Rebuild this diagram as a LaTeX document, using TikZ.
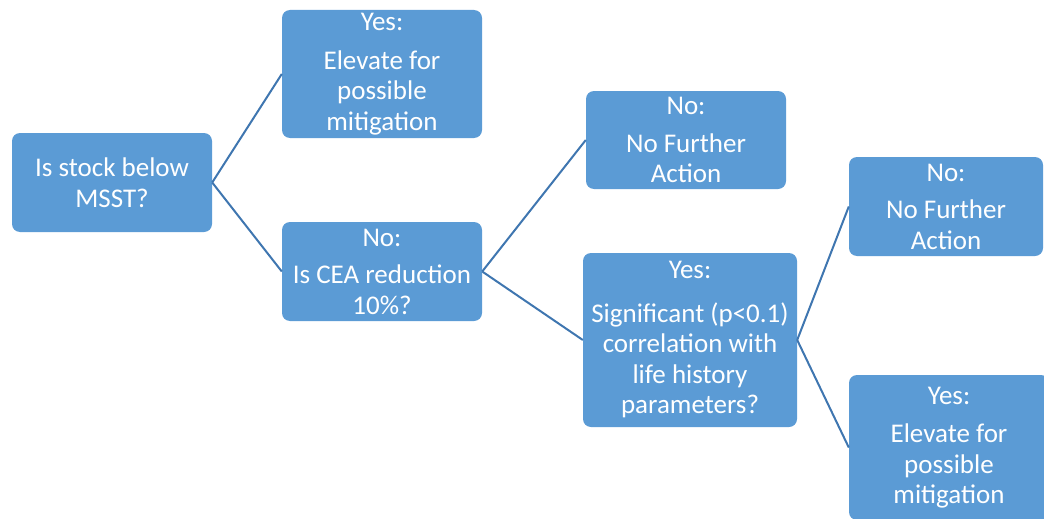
\documentclass[tikz,border=0pt]{standalone}
\usepackage{fontspec}
\setmainfont{Carlito}
\usepackage{xcolor}
\definecolor{boxblue}{HTML}{5B9BD5}
\definecolor{lineblue}{HTML}{3F76B0}

\begin{document}
\begin{tikzpicture}[x=1pt,y=-1pt,
		decision/.style={fill=boxblue, rounded corners=8pt, text=white, align=center, inner sep=0pt, font=\fontsize{27}{30.5}\selectfont},
		branch/.style={draw=lineblue, line width=2pt}]
		\useasboundingbox (0,0) rectangle (1044,519);
		\clip (0,0) rectangle (1044,519);
		\node[decision, minimum width=200pt, minimum height=99pt] (stock) at (112,182.5) {Is stock below\\MSST?};
		\node[decision, minimum width=200pt, minimum height=128pt] (elevA) at (382,74) {Yes:\\[8pt]Elevate for\\possible\\mitigation};
		\node[decision, minimum width=200pt, minimum height=99pt] (cea) at (382,271.5) {No:\\[7pt]Is CEA reduction\\10\%?};
		\node[decision, minimum width=200pt, minimum height=98pt] (actionA) at (686,140) {No:\\[7pt]No Further\\Action};
		\node[decision, minimum width=214pt, minimum height=174pt] (signif) at (690,340) {Yes:\\[13pt]Significant (p<0.1)\\correlation with\\life history\\parameters?};
		\node[decision, minimum width=194pt, minimum height=99pt] (actionB) at (946,206.5) {No:\\[7pt]No Further\\Action};
		\node[decision, minimum width=200pt, minimum height=145pt] (elevB) at (949,447.5) {Yes:\\[8pt]Elevate for\\possible\\mitigation};
		\draw[branch] (stock.east) -- (elevA.west);
		\draw[branch] (stock.east) -- (cea.west);
		\draw[branch] (cea.east) -- (actionA.west);
		\draw[branch] (cea.east) -- (signif.west);
		\draw[branch] (signif.east) -- (actionB.west);
		\draw[branch] (signif.east) -- (elevB.west);
	\end{tikzpicture}
\end{document}
